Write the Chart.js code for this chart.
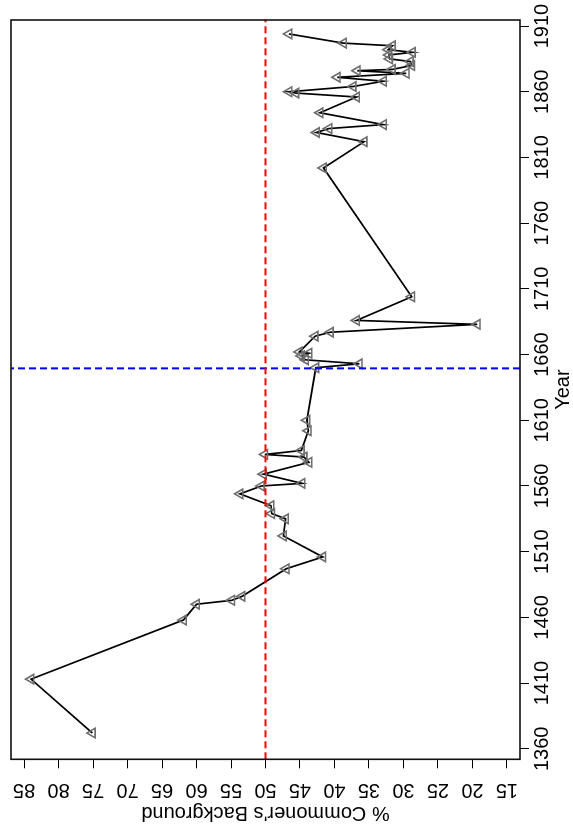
<!DOCTYPE html>
<html>
<head>
<meta charset="utf-8">
<script src="https://cdn.jsdelivr.net/npm/chart.js@4.4.0/dist/chart.umd.min.js"></script>
<style>
  html, body { margin: 0; padding: 0; background: #fff; overflow: hidden; }
  /* chart is drawn upright, then the whole thing is turned a quarter left */
  #wrap {
    position: absolute; left: 0; top: 0;
    width: 827px; height: 573px;
    transform-origin: 0 0;
    transform: translateY(827px) rotate(-90deg);
  }
</style>
</head>
<body>
<div id="wrap"><canvas id="chart" width="827" height="573"></canvas></div>
<script>
const years = [1372, 1413, 1458, 1470, 1473, 1476, 1497, 1506, 1522, 1535, 1539, 1545,
  1554, 1560, 1562, 1569, 1578, 1582, 1584, 1587, 1602, 1610, 1650, 1653,
  1656, 1659, 1661, 1662, 1674, 1677, 1683, 1686, 1704, 1802, 1822, 1829,
  1832, 1835, 1844, 1856, 1859, 1860, 1864, 1868, 1871, 1874, 1876, 1877,
  1880, 1883, 1885, 1888, 1890, 1892, 1895, 1897, 1904];
const commonerPct = [75.1, 84.0, 61.9, 60.0, 54.9, 53.4, 47.0, 41.7, 47.4, 47.1, 49.1, 49.2,
  53.7, 50.6, 44.7, 50.3, 43.7, 44.4, 50.1, 44.8, 43.8, 44.0, 42.7, 36.4,
  44.2, 44.8, 43.7, 45.1, 42.8, 40.6, 19.3, 36.8, 28.8, 41.6, 35.7, 42.6,
  40.8, 32.9, 42.1, 36.8, 45.6, 46.6, 37.3, 32.9, 39.6, 29.6, 36.7, 31.6,
  28.8, 29.0, 32.0, 32.1, 28.7, 32.2, 31.6, 38.7, 46.6];

const yearTicks = [1360, 1410, 1460, 1510, 1560, 1610, 1660, 1710, 1760, 1810, 1860, 1910];
const pctTicks = [15, 20, 25, 30, 35, 40, 45, 50, 55, 60, 65, 70, 75, 80, 85];
const yearRange = [1352, 1914.6];
const pctRange = [13.1, 86.9];
const refPct = 50;
const refYear = 1649.5;

const FONT = '"Liberation Sans", Arial, Helvetica, sans-serif';

// box round the plot area, like R's bty="o"
const boxPlugin = {
  id: 'box',
  afterDatasetsDraw(chart) {
    const { ctx, chartArea: a } = chart;
    ctx.save();
    ctx.strokeStyle = '#111';
    ctx.lineWidth = 1.6;
    ctx.strokeRect(a.left, a.top, a.right - a.left, a.bottom - a.top);
    ctx.restore();
  }
};

// y tick labels run along the axis (R las=0), Chart.js can't turn them
const yLabelsPlugin = {
  id: 'yLabels',
  afterDraw(chart) {
    const { ctx } = chart;
    const y = chart.scales.y;
    ctx.save();
    ctx.font = '20px ' + FONT;
    ctx.fillStyle = '#000';
    ctx.textAlign = 'center';
    ctx.textBaseline = 'middle';
    pctTicks.forEach(t => {
      ctx.save();
      ctx.translate(37, y.getPixelForValue(t));
      ctx.rotate(-Math.PI / 2);
      ctx.fillText(String(t), 0, 0);
      ctx.restore();
    });
    ctx.restore();
  }
};

const points = years.map((yr, i) => ({ x: yr, y: commonerPct[i] }));

new Chart(document.getElementById('chart').getContext('2d'), {
  type: 'scatter',
  data: {
    datasets: [
      {
        data: [{ x: yearRange[0], y: refPct }, { x: yearRange[1], y: refPct }],
        showLine: true, borderColor: '#ff0000', borderWidth: 2, borderDash: [7, 4],
        pointRadius: 0
      },
      {
        data: [{ x: refYear, y: pctRange[0] }, { x: refYear, y: pctRange[1] }],
        showLine: true, borderColor: '#0000ff', borderWidth: 2, borderDash: [7, 4],
        pointRadius: 0
      },
      {
        data: points,
        showLine: true, borderColor: '#000', borderWidth: 1.7, tension: 0,
        pointStyle: 'triangle', pointRadius: 5.5, pointBorderWidth: 1.6,
        pointBorderColor: '#6e6e6e', pointBackgroundColor: 'rgba(0,0,0,0)'
      }
    ]
  },
  options: {
    responsive: false,
    animation: false,
    devicePixelRatio: 1,
    layout: { padding: { top: 11, right: 20, left: 0, bottom: 0 } },
    plugins: { legend: { display: false }, tooltip: { enabled: false } },
    scales: {
      x: {
        type: 'linear',
        min: yearRange[0], max: yearRange[1],
        afterBuildTicks: s => { s.ticks = yearTicks.map(v => ({ value: v })); },
        afterFit: s => { s.height = 53; },
        grid: { drawOnChartArea: false, drawTicks: true, tickLength: 9, tickColor: '#000', tickWidth: 1 },
        border: { display: false },
        ticks: {
          color: '#000', font: { family: FONT, size: 20 }, padding: 1, maxRotation: 0,
          callback: v => String(v)
        },
        title: { display: true, text: 'Year', color: '#000', font: { family: FONT, size: 20, lineHeight: 1 }, padding: { top: 0, bottom: 0 } }
      },
      y: {
        type: 'linear',
        min: pctRange[0], max: pctRange[1],
        afterBuildTicks: s => { s.ticks = pctTicks.map(v => ({ value: v })); },
        afterFit: s => { s.width = 67.7; },
        grid: { drawOnChartArea: false, drawTicks: true, tickLength: 9, tickColor: '#000', tickWidth: 1 },
        border: { display: false },
        ticks: { display: false },
        title: { display: true, text: "% Commoner's Background", color: '#000', font: { family: FONT, size: 20, lineHeight: 1 }, padding: { top: 4, bottom: 0 } }
      }
    }
  },
  plugins: [boxPlugin, yLabelsPlugin]
});
</script>
</body>
</html>
